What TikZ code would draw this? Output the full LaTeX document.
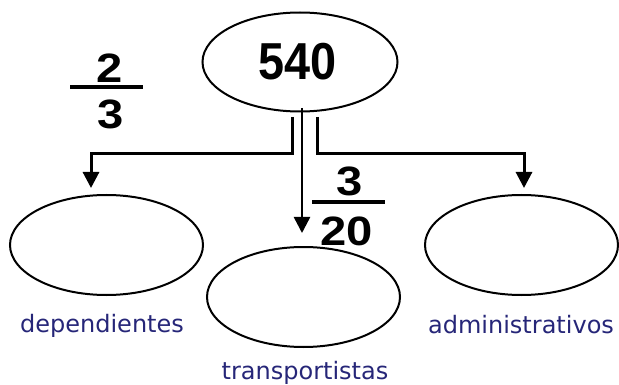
\documentclass[tikz,border=0pt]{standalone}
\usepackage{fontspec}
\setmainfont{Liberation Sans}
\newfontfamily\labelfont{DejaVu Sans}
\usetikzlibrary{arrows.meta,shapes.geometric}
\definecolor{labelblue}{RGB}{38,38,120}
\tikzset{
  oval/.style={draw=black, line width=2pt, ellipse, minimum width=#1, inner sep=0pt},
  conn/.style={draw=black, line width=3pt, -{Triangle[length=16pt,width=16pt]}},
  fracbar/.style={draw=black, line width=4pt},
  num/.style={font=\fontsize{41}{41}\selectfont\bfseries, inner sep=0pt},
  lbl/.style={font=\labelfont\fontsize{24}{24}\selectfont, text=labelblue, inner sep=0pt, anchor=base},
}
\newcommand{\widedigits}[1]{\scalebox{1.15}[1]{#1}}
\begin{document}
\begin{tikzpicture}[x=1pt,y=-1pt]
\useasboundingbox (0,0) rectangle (619,385);
% ovals
\node[oval=195pt, minimum height=99pt] (top) at (300,62) {};
\node[font=\fontsize{52}{52}\selectfont\bfseries, inner sep=0pt] (n540) at (297.5,62) {\scalebox{0.9}[1]{540}};
\node[oval=193pt, minimum height=100pt] (left) at (106.5,245) {};
\node[oval=193pt, minimum height=100pt] (mid) at (303.5,297) {};
\node[oval=193pt, minimum height=100pt] (right) at (521.5,245) {};
% labels
\node[lbl] (ldep) at (102,332) {dependientes};
\node[lbl] (ltra) at (305,379) {transportistas};
\node[lbl] (ladm) at (521,333) {administrativos};
% fractions
\node[num] (f1n) at (109.5,68) {\widedigits{2}};
\coordinate (f1a) at (70,87);
\coordinate (f1b) at (143,87);
\draw[fracbar] (f1a) -- (f1b);
\node[num] (f1d) at (111,114) {\widedigits{3}};
\node[num] (f2n) at (350,181.5) {\widedigits{3}};
\coordinate (f2a) at (312,202);
\coordinate (f2b) at (385,202);
\draw[fracbar] (f2a) -- (f2b);
\node[num] (f2d) at (346.5,231) {\widedigits{20}};
% connectors
\coordinate (ls) at (292,117);
\coordinate (lt) at (91,188);
\coordinate (ms) at (302,108);
\coordinate (mt) at (302,233);
\coordinate (rs) at (317,117);
\coordinate (rt) at (524,188);
\draw[conn] (ls) |- (lt |- 0,154) -- (lt);
\draw[conn, line width=2.5pt] (ms) -- (mt);
\draw[conn] (rs) |- (rt |- 0,154) -- (rt);
\end{tikzpicture}
\end{document}
